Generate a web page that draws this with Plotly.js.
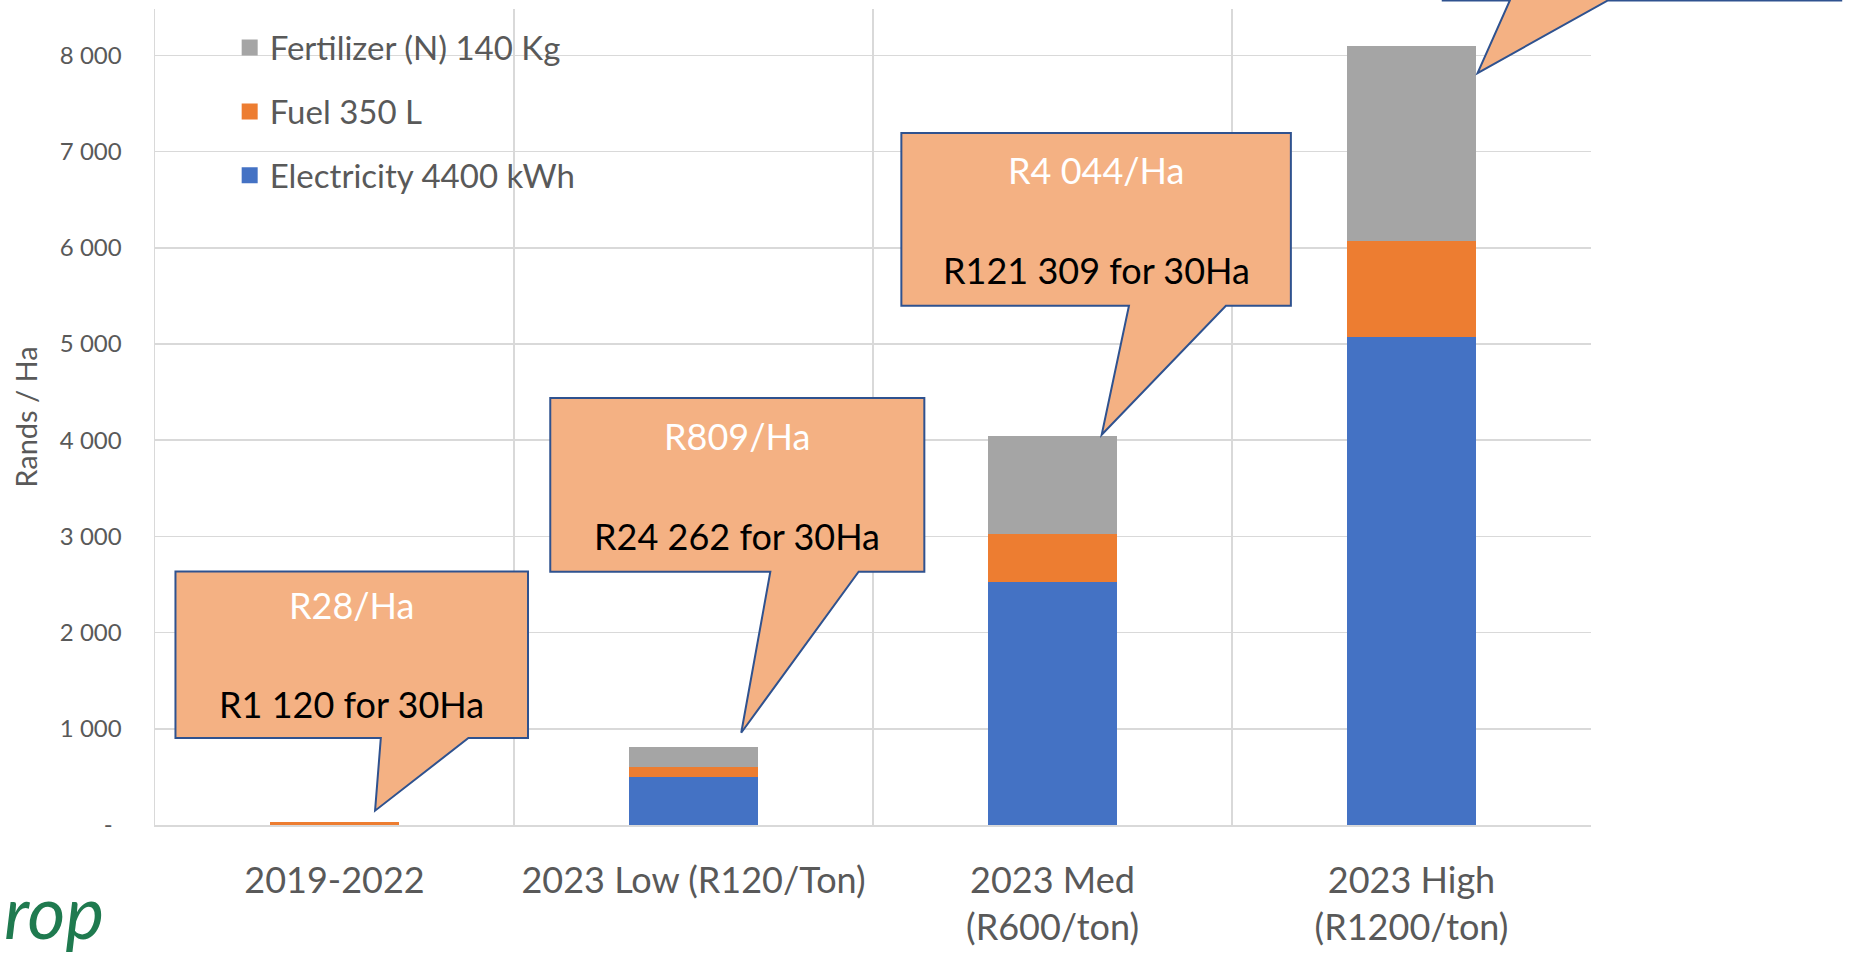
<!DOCTYPE html>
<html>
<head>
<meta charset="utf-8">
<script src="https://cdn.plot.ly/plotly-3.0.1.min.js"></script>
<style>
  html, body { margin: 0; padding: 0; background: #ffffff; }
  #chart { width: 1854px; height: 953px; }
</style>
</head>
<body>
<div id="chart"></div>
<script>
// Cost scenarios (Rands per hectare)
const categories = ['2019-2022', '2023 Low (R120/Ton)', '2023 Med<br>(R600/ton)', '2023 High<br>(R1200/ton)'];
const electricity = [0, 500, 2522, 5070];
const fuel = [28, 105, 500, 1000];
const fertilizer = [0, 204, 1022, 2025];

const seriesNames = ['Electricity 4400 kWh', 'Fuel 350 L', 'Fertilizer (N) 140 Kg'];
const seriesColors = ['#4472C4', '#ED7D31', '#A5A5A5'];

const yTickVals = [0, 1000, 2000, 3000, 4000, 5000, 6000, 7000, 8000];
const yTickText = ['-\u00a0\u2009', '1 000', '2 000', '3 000', '4 000', '5 000', '6 000', '7 000', '8 000'];

// Callout texts per scenario (the last callout's text sits above the page)
const perHaLabels = ['R28/Ha', 'R809/Ha', 'R4 044/Ha'];
const farmLabels = ['R1 120 for 30Ha', 'R24 262 for 30Ha', 'R121 309 for 30Ha'];

const X_RANGE = [-0.5, 3.5];
const Y_RANGE = [0, 8483];

// Callout outlines, in category-index units (x) and Rand units (y)
const callouts = [
  { x0: -0.443, x1: 0.539, top: 2636, bottom: 904,  base: [0.129, 0.373], tip: [0.113, 149],  line1: 0.20 },
  { x0: 0.601,  x1: 1.643, top: 4438, bottom: 2633, base: [1.214, 1.460], tip: [1.133, 959],  line1: 0.22 },
  { x0: 1.579,  x1: 2.664, top: 7193, bottom: 5398, base: [2.213, 2.483], tip: [2.137, 4057], line1: 0.215 },
  { x0: 3.087,  x1: 4.197, top: 10360, bottom: 8572, base: [3.274, 3.547], tip: [3.184, 7817], line1: 0.22 }
];

const px = u => (u - X_RANGE[0]) / (X_RANGE[1] - X_RANGE[0]);
const py = v => (v - Y_RANGE[0]) / (Y_RANGE[1] - Y_RANGE[0]);

const FONT = 'Lato, "Open Sans", sans-serif';
const TEXT_GREY = '#595959';
const GRID = '#D9D9D9';

const stacks = [electricity, fuel, fertilizer];
const traces = stacks.map((vals, i) => ({
  type: 'bar',
  x: categories,
  y: vals,
  name: seriesNames[i],
  marker: { color: seriesColors[i] },
  showlegend: false,
  hoverinfo: 'skip'
}));

// Legend entries (square swatches), listed top to bottom
[2, 1, 0].forEach(i => {
  traces.push({
    type: 'scatter',
    mode: 'markers',
    x: [null],
    y: [null],
    name: seriesNames[i],
    legendgroup: 'g' + i,
    marker: { symbol: 'square', size: 16, color: seriesColors[i] },
    hoverinfo: 'skip'
  });
});

const shapes = callouts.map(c => {
  const pts = [
    [c.x0, c.top], [c.x1, c.top], [c.x1, c.bottom], [c.base[1], c.bottom],
    [c.tip[0], c.tip[1]], [c.base[0], c.bottom], [c.x0, c.bottom]
  ];
  const d = 'M' + pts.map(p => px(p[0]).toFixed(5) + ',' + py(p[1]).toFixed(5)).join(' L') + ' Z';
  return {
    type: 'path', xref: 'paper', yref: 'paper', path: d,
    fillcolor: '#F4B183', line: { color: '#2F528F', width: 2 }, layer: 'above'
  };
});

const annotations = [];
perHaLabels.forEach((t, i) => {
  const c = callouts[i];
  const cx = px((c.x0 + c.x1) / 2);
  const h = c.top - c.bottom;
  annotations.push({
    xref: 'paper', yref: 'paper', x: cx, y: py(c.top - c.line1 * h),
    text: t, showarrow: false, xanchor: 'center', yanchor: 'middle',
    font: { family: FONT, size: 36, color: '#FFFFFF' }
  });
  annotations.push({
    xref: 'paper', yref: 'paper', x: cx, y: py(c.top - 0.795 * h),
    text: farmLabels[i], showarrow: false, xanchor: 'center', yanchor: 'middle',
    font: { family: FONT, size: 36, color: '#000000' }
  });
});

// Logo fragment at the bottom-left corner
annotations.push({
  xref: 'paper', yref: 'paper', x: -0.0341, y: -0.1057,
  text: '<i>rop</i>', showarrow: false, xanchor: 'right', yanchor: 'middle',
  font: { family: FONT, size: 73, color: '#1F7A4F' }
});

const layout = {
  width: 1854,
  height: 953,
  margin: { l: 155, r: 263, t: 9, b: 128, pad: 0 },
  paper_bgcolor: '#ffffff',
  plot_bgcolor: '#ffffff',
  barmode: 'stack',
  bargap: 0.643,
  font: { family: FONT, color: TEXT_GREY },
  showlegend: true,
  legend: {
    x: 0.052, y: 0.987, xanchor: 'left', yanchor: 'top',
    traceorder: 'grouped', tracegroupgap: 18,
    font: { family: FONT, size: 33, color: TEXT_GREY },
    bgcolor: 'rgba(0,0,0,0)'
  },
  xaxis: {
    type: 'category',
    range: X_RANGE,
    tickson: 'boundaries',
    showgrid: true, gridcolor: GRID, gridwidth: 1.5,
    ticks: '',
    showline: true, linecolor: GRID, linewidth: 1.5,
    tickfont: { family: FONT, size: 36, color: TEXT_GREY },
    ticklabelstandoff: 23,
    fixedrange: true
  },
  yaxis: {
    range: Y_RANGE,
    tickmode: 'array', tickvals: yTickVals, ticktext: yTickText,
    showgrid: true, gridcolor: GRID, gridwidth: 1.5,
    zeroline: false,
    showline: true, linecolor: GRID, linewidth: 1.5,
    ticks: '',
    tickfont: { family: FONT, size: 24, color: TEXT_GREY },
    ticklabelstandoff: 27,
    title: { text: 'Rands / Ha', font: { family: FONT, size: 29, color: TEXT_GREY }, standoff: 13.4 },
    fixedrange: true
  },
  shapes: shapes,
  annotations: annotations
};

Plotly.newPlot('chart', traces, layout, { displayModeBar: false, staticPlot: true });
</script>
</body>
</html>
